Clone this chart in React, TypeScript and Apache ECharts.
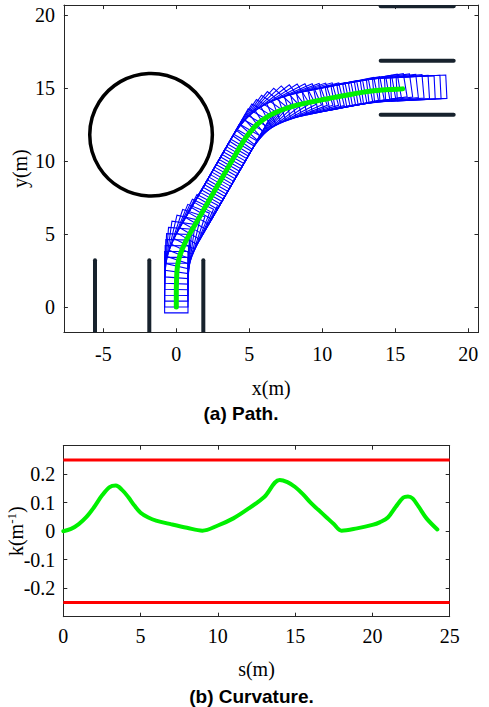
import React, { useEffect, useRef } from "react";
import * as echarts from "echarts";

// ---------- (a) Path data ----------
const pathX = [
  0, 0, 0, 0, 0.01, 0.02, 0.04, 0.08, 0.15, 0.26, 0.4, 0.56, 0.74, 0.93, 1.13, 1.33,
  1.53, 1.73, 1.93, 2.13, 2.33, 2.53, 2.73, 2.93, 3.13, 3.33, 3.53, 3.73, 3.93, 4.13,
  4.33, 4.54, 4.76, 5.0, 5.26, 5.54, 5.84, 6.17, 6.52, 6.88, 7.25, 7.63, 8.01, 8.4,
  8.79, 9.18, 9.57, 9.96, 10.36, 10.75, 11.14, 11.53, 11.93, 12.32, 12.72, 13.11,
  13.51, 13.91, 14.3, 14.7, 15.1, 15.5,
];
const pathY = [
  0, 0.4, 0.8, 1.2, 1.6, 2.0, 2.4, 2.8, 3.19, 3.58, 3.95, 4.32, 4.68, 5.03, 5.37, 5.72,
  6.07, 6.41, 6.76, 7.11, 7.45, 7.8, 8.15, 8.49, 8.84, 9.18, 9.53, 9.88, 10.22, 10.57,
  10.92, 11.26, 11.59, 11.91, 12.22, 12.51, 12.76, 12.99, 13.19, 13.36, 13.51, 13.64,
  13.76, 13.86, 13.95, 14.03, 14.11, 14.19, 14.26, 14.34, 14.42, 14.49, 14.56, 14.63,
  14.7, 14.76, 14.81, 14.85, 14.88, 14.9, 14.92, 14.94,
];
const obstacleCircle = [[-1.73, 11.8, 4.2]]; // cx, cy, r
const slotLinesX = [-5.57, -1.85, 1.85];
const slotLineTopY = 3.2;
const bayLinesY = [20.6, 16.87, 13.17];
const bayLineFromX = 14.0;
const bayLineToX = 19.0;
const vehicleRear = 0.4;
const vehicleFront = 3.0;
const vehicleWidth = 1.6;
const pathXMin = -7.7;
const pathXMax = 20.7;
const pathYMin = -1.73;
const pathYMax = 20.68;
const pathXTicks = [-5, 0, 5, 10, 15, 20];
const pathYTicks = [0, 5, 10, 15, 20];

// ---------- (b) Curvature data ----------
const arcS = [
  0, 0.5, 1.0, 1.5, 2.0, 2.5, 3.0, 3.4, 3.8, 4.2, 4.6, 5.0, 5.5, 6.0, 7.0, 8.0, 9.0,
  10.0, 11.0, 12.0, 13.0, 14.0, 14.5, 15.0, 15.5, 16.0, 16.5, 17.0, 17.5, 18.0, 19.0,
  20.0, 20.5, 21.0, 21.5, 22.0, 22.3, 22.6, 23.0, 23.5, 24.2,
];
const curvature = [
  0, 0.008, 0.025, 0.05, 0.085, 0.125, 0.155, 0.16, 0.145, 0.12, 0.09, 0.065, 0.048,
  0.037, 0.024, 0.012, 0.002, 0.02, 0.045, 0.08, 0.12, 0.18, 0.172, 0.155, 0.13, 0.1,
  0.075, 0.05, 0.025, 0.002, 0.01, 0.022, 0.032, 0.048, 0.085, 0.118, 0.122, 0.115,
  0.085, 0.045, 0.006,
];
const kLimit = 0.25;
const sMin = 0;
const sMax = 25;
const kMin = -0.3;
const kMax = 0.3;
const sTicks = [0, 5, 10, 15, 20, 25];
const kTicks = [-0.2, -0.1, 0, 0.1, 0.2];

const SERIF = "Liberation Serif";
const SANS = "Liberation Sans";
const AXC = "#262626";

const richT = {
  t: { fontFamily: SERIF, fontSize: 20, color: "#000", fontWeight: "normal" },
};

function tickFormatter(ticks: number[], digits: number) {
  return (v: number) => {
    const hit = ticks.find((t) => Math.abs(t - v) < 1e-6);
    if (hit === undefined) return "";
    const s = hit === 0 ? "0" : digits > 0 ? hit.toFixed(digits) : String(hit);
    return "{t|" + s + "}";
  };
}

function labelStyle(extra: any) {
  return {
    show: true,
    color: "#000",
    fontFamily: SERIF,
    fontSize: 20,
    showMinLabel: false,
    showMaxLabel: false,
    rich: richT,
    ...extra,
  };
}

function valueAxis(extra: any, pos: string) {
  return {
    type: "value",
    position: pos,
    nameMoveOverlap: false,
    axisLine: { show: true, onZero: false, lineStyle: { color: AXC, width: 1 } },
    axisTick: { show: true, inside: true, length: 4, lineStyle: { color: AXC, width: 1 } },
    splitLine: { show: false },
    axisLabel: { show: false },
    ...extra,
  };
}

function buildOption() {
  const pathData = pathX.map((x, i) => [x, pathY[i]]);
  const segs: number[][] = [];
  slotLinesX.forEach((x) => segs.push([x, pathYMin, x, slotLineTopY]));
  bayLinesY.forEach((y) => segs.push([bayLineFromX, y, bayLineToX, y]));

  const pathXAxis = { min: pathXMin, max: pathXMax, splitNumber: 5, minInterval: 5, maxInterval: 5 };
  const pathYAxis = { min: pathYMin, max: pathYMax, splitNumber: 5, minInterval: 5, maxInterval: 5 };
  const nameStyle = { fontFamily: SERIF, fontSize: 20, color: "#000" };

  return {
    animation: false,
    backgroundColor: "#fff",
    textStyle: { fontFamily: SERIF, fontSize: 20, color: "#000" },
    grid: [
      { left: 63.9, top: 5.07, width: 414.6, height: 327.2, outerBoundsMode: "none" },
      { left: 63.3, top: 445.7, width: 386.4, height: 171, outerBoundsMode: "none" },
    ],
    xAxis: [
      valueAxis(
        {
          ...pathXAxis,
          gridIndex: 0,
          name: "x(m)",
          nameLocation: "middle",
          nameGap: 46,
          nameTextStyle: nameStyle,
          axisLabel: labelStyle({ margin: 12, formatter: tickFormatter(pathXTicks, 0) }),
        },
        "bottom"
      ),
      valueAxis({ ...pathXAxis, gridIndex: 0 }, "top"),
      valueAxis(
        {
          gridIndex: 1,
          min: sMin,
          max: sMax,
          interval: 5,
          name: "s(m)",
          nameLocation: "middle",
          nameGap: 42,
          nameTextStyle: nameStyle,
          axisLabel: labelStyle({
            margin: 9,
            showMinLabel: true,
            showMaxLabel: true,
            formatter: tickFormatter(sTicks, 0),
          }),
        },
        "bottom"
      ),
      valueAxis({ gridIndex: 1, min: sMin, max: sMax, interval: 5 }, "top"),
    ],
    yAxis: [
      valueAxis(
        {
          ...pathYAxis,
          gridIndex: 0,
          name: "y(m)",
          nameLocation: "middle",
          nameGap: 34,
          nameTextStyle: nameStyle,
          axisLabel: labelStyle({ margin: 9, formatter: tickFormatter(pathYTicks, 0) }),
        },
        "left"
      ),
      valueAxis({ ...pathYAxis, gridIndex: 0 }, "right"),
      valueAxis(
        {
          gridIndex: 1,
          min: kMin,
          max: kMax,
          interval: 0.1,
          name: "{a|k(m}{s|-1}{a|)}",
          nameLocation: "middle",
          nameGap: 36,
          nameTextStyle: {
            color: "#000",
            fontFamily: SERIF,
            fontSize: 20,
            rich: {
              a: { fontFamily: SERIF, fontSize: 20, lineHeight: 22, color: "#000" },
              s: { fontFamily: SERIF, fontSize: 13, lineHeight: 13, verticalAlign: "top", color: "#000" },
            },
          },
          axisLabel: labelStyle({ margin: 8, formatter: tickFormatter(kTicks, 1) }),
        },
        "left"
      ),
      valueAxis({ gridIndex: 1, min: kMin, max: kMax, interval: 0.1 }, "right"),
    ],
    series: [
      {
        type: "custom",
        name: "vehicle",
        xAxisIndex: 0,
        yAxisIndex: 0,
        clip: true,
        z: 2,
        data: pathData,
        renderItem: (params: any, api: any) => {
          const i = params.dataIndex;
          const n = pathX.length;
          const i0 = Math.max(0, i - 1);
          const i1 = Math.min(n - 1, i + 1);
          const dx = pathX[i1] - pathX[i0];
          const dy = pathY[i1] - pathY[i0];
          const L = Math.hypot(dx, dy) || 1;
          const ux = dx / L;
          const uy = dy / L;
          const nx = -uy;
          const ny = ux;
          const x = api.value(0);
          const y = api.value(1);
          const hw = vehicleWidth / 2;
          const rx = x - ux * vehicleRear;
          const ry = y - uy * vehicleRear;
          const fx = x + ux * vehicleFront;
          const fy = y + uy * vehicleFront;
          const pts = [
            [rx + nx * hw, ry + ny * hw],
            [fx + nx * hw, fy + ny * hw],
            [fx - nx * hw, fy - ny * hw],
            [rx - nx * hw, ry - ny * hw],
          ].map((p) => api.coord(p));
          return {
            type: "polygon",
            shape: { points: pts },
            style: { fill: "none", stroke: "#0000ff", lineWidth: 1.1 },
          };
        },
      },
      {
        type: "line",
        name: "path",
        xAxisIndex: 0,
        yAxisIndex: 0,
        data: pathData,
        symbol: "none",
        smooth: false,
        z: 4,
        lineStyle: { color: "#00f000", width: 5, cap: "round", join: "round" },
      },
      {
        type: "custom",
        name: "obstacle",
        xAxisIndex: 0,
        yAxisIndex: 0,
        z: 3,
        data: obstacleCircle,
        renderItem: (params: any, api: any) => {
          const c = api.coord([api.value(0), api.value(1)]);
          const r = api.size([api.value(2), 0])[0];
          return {
            type: "circle",
            shape: { cx: c[0], cy: c[1], r },
            style: { fill: "none", stroke: "#000", lineWidth: 3.5 },
          };
        },
      },
      {
        type: "custom",
        name: "slots",
        xAxisIndex: 0,
        yAxisIndex: 0,
        z: 3,
        clip: true,
        data: segs,
        renderItem: (params: any, api: any) => {
          const p1 = api.coord([api.value(0), api.value(1)]);
          const p2 = api.coord([api.value(2), api.value(3)]);
          return {
            type: "line",
            shape: { x1: p1[0], y1: p1[1], x2: p2[0], y2: p2[1] },
            style: { stroke: "#17222d", lineWidth: 4, lineCap: "round" },
          };
        },
      },
      {
        type: "line",
        name: "kmax",
        xAxisIndex: 2,
        yAxisIndex: 2,
        data: [
          [sMin, kLimit],
          [sMax, kLimit],
        ],
        symbol: "none",
        lineStyle: { color: "#ff0000", width: 3 },
      },
      {
        type: "line",
        name: "kmin",
        xAxisIndex: 2,
        yAxisIndex: 2,
        data: [
          [sMin, -kLimit],
          [sMax, -kLimit],
        ],
        symbol: "none",
        lineStyle: { color: "#ff0000", width: 3 },
      },
      {
        type: "line",
        name: "curvature",
        xAxisIndex: 2,
        yAxisIndex: 2,
        data: arcS.map((s, i) => [s, curvature[i]]),
        symbol: "none",
        smooth: 0.35,
        lineStyle: { color: "#00f000", width: 4, cap: "round", join: "round" },
      },
    ],
    graphic: [
      {
        type: "text",
        x: 241,
        y: 413,
        style: {
          text: "(a) Path.",
          fontFamily: SANS,
          fontWeight: "bold",
          fontSize: 19,
          fill: "#000",
          align: "center",
          verticalAlign: "middle",
        },
      },
      {
        type: "text",
        x: 251.5,
        y: 696,
        style: {
          text: "(b) Curvature.",
          fontFamily: SANS,
          fontWeight: "bold",
          fontSize: 19,
          fill: "#000",
          align: "center",
          verticalAlign: "middle",
        },
      },
    ],
  };
}

export default function App() {
  const ref = useRef<HTMLDivElement>(null);
  useEffect(() => {
    if (!ref.current) return;
    const chart = echarts.init(ref.current, null, { renderer: "svg" });
    chart.setOption(buildOption() as any);
    return () => chart.dispose();
  }, []);
  return (
    <div
      ref={ref}
      style={{ position: "fixed", left: 0, top: 0, width: 489, height: 707, background: "#fff" }}
    />
  );
}
